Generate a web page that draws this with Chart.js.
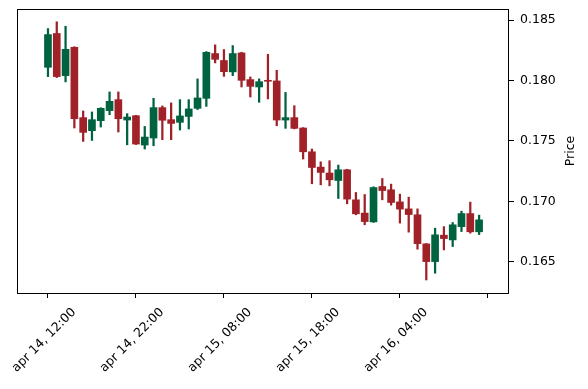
<!DOCTYPE html>
<html>
<head>
<meta charset="utf-8">
<script src="https://cdn.jsdelivr.net/npm/chart.js@4/dist/chart.umd.min.js"></script>
<style>
  html, body { margin: 0; padding: 0; background: #fff; }
  #wrap { width: 588px; height: 389px; }
</style>
</head>
<body>
<div id="wrap"><canvas id="c"></canvas></div>
<script>
// --- OHLC data (hourly candles) ---
const opens  = [0.18110,0.18390,0.18041,0.18276,0.17693,0.17585,0.17668,0.17751,0.17842,0.17673,
                0.17709,0.17466,0.17524,0.17776,0.17676,0.17654,0.17703,0.17770,0.17853,0.18224,
                0.18166,0.18072,0.18229,0.18008,0.17947,0.17998,0.17997,0.17673,0.17693,0.17607,
                0.17410,0.17283,0.17234,0.17172,0.17261,0.17012,0.16902,0.16829,0.17122,0.17095,
                0.16995,0.16937,0.16888,0.16647,0.16500,0.16719,0.16680,0.16790,0.16898,0.16747];
const highs  = [0.18431,0.18487,0.18450,0.18280,0.17748,0.17740,0.17775,0.17906,0.17906,0.17726,
                0.17712,0.17620,0.17853,0.17790,0.17815,0.17842,0.17842,0.18014,0.18240,0.18296,
                0.18257,0.18290,0.18235,0.18030,0.18014,0.18218,0.18085,0.17902,0.17792,0.17610,
                0.17433,0.17327,0.17336,0.17300,0.17265,0.17073,0.17056,0.17120,0.17189,0.17142,
                0.17059,0.17034,0.16937,0.16650,0.16777,0.16790,0.16824,0.16918,0.16993,0.16885];
const lows   = [0.18033,0.18025,0.17989,0.17607,0.17496,0.17504,0.17615,0.17717,0.17574,0.17468,
                0.17470,0.17433,0.17460,0.17510,0.17510,0.17590,0.17599,0.17760,0.17786,0.18146,
                0.18035,0.18041,0.17947,0.17864,0.17820,0.17848,0.17626,0.17604,0.17600,0.17350,
                0.17145,0.17136,0.17128,0.17023,0.16979,0.16888,0.16805,0.16825,0.17012,0.16968,
                0.16819,0.16744,0.16603,0.16348,0.16404,0.16597,0.16625,0.16749,0.16736,0.16724];
const closes = [0.18381,0.18033,0.18259,0.17684,0.17571,0.17676,0.17770,0.17828,0.17684,0.17698,
                0.17474,0.17532,0.17776,0.17671,0.17645,0.17707,0.17765,0.17856,0.18234,0.18176,
                0.18074,0.18224,0.18002,0.17952,0.17991,0.17994,0.17673,0.17693,0.17604,0.17410,
                0.17280,0.17239,0.17178,0.17261,0.17018,0.16896,0.16832,0.17114,0.17089,0.16990,
                0.16935,0.16890,0.16649,0.16500,0.16722,0.16691,0.16805,0.16898,0.16747,0.16846];

// --- axis ticks ---
const xTickPos    = [0, 10, 20, 30, 40, 50];
const xTickLabels = ['apr 14, 12:00', 'apr 14, 22:00', 'apr 15, 08:00', 'apr 15, 18:00', 'apr 16, 04:00', ''];
const yTicks      = [0.165, 0.170, 0.175, 0.180, 0.185];

const UP = '#006340';
const DOWN = '#A02128';
const candleColor = c => closes[c.dataIndex] >= opens[c.dataIndex] ? UP : DOWN;

// frame around the plot area + rotated y label
const framePlugin = {
  id: 'frame',
  afterDraw(chart) {
    const a = chart.chartArea, ctx = chart.ctx;
    ctx.save();
    ctx.strokeStyle = '#000';
    ctx.lineWidth = 1;
    ctx.strokeRect(Math.round(a.left) + 0.5, Math.round(a.top) + 0.5,
                   Math.round(a.right - a.left) - 1, Math.round(a.bottom - a.top));
    ctx.translate(571, (a.top + a.bottom) / 2);
    ctx.rotate(-Math.PI / 2);
    ctx.fillStyle = '#000';
    ctx.font = '12.5px "DejaVu Sans"';
    ctx.textAlign = 'center';
    ctx.textBaseline = 'middle';
    ctx.fillText('Price', 0, 0);
    ctx.restore();
  }
};

new Chart(document.getElementById('c'), {
  type: 'bar',
  data: {
    datasets: [
      {
        label: 'body',
        data: opens.map((o, i) => ({ x: i, y: [o, closes[i]] })),
        backgroundColor: candleColor,
        barThickness: 7,
        minBarLength: 1,
        stack: 'ohlc',
        order: 0
      },
      {
        label: 'wick',
        data: lows.map((l, i) => ({ x: i, y: [l, highs[i]] })),
        backgroundColor: candleColor,
        barThickness: 1.6,
        stack: 'ohlc',
        order: 1
      }
    ]
  },
  options: {
    responsive: true,
    maintainAspectRatio: false,
    animation: false,
    layout: { padding: { left: 17, top: 9, right: 0, bottom: 0 } },
    plugins: { legend: { display: false }, tooltip: { enabled: false } },
    scales: {
      x: {
        type: 'linear',
        offset: false,
        min: -3.52,
        max: 52.4,
        afterBuildTicks: s => { s.ticks = xTickPos.map(v => ({ value: v })); },
        afterFit: s => { s.height = 96; s.paddingLeft = 0; s.paddingRight = 0; },
        border: { display: false },
        grid: { offset: false, drawOnChartArea: false, drawTicks: true, tickLength: 5, color: '#000', tickWidth: 1 },
        ticks: {
          minRotation: 45, maxRotation: 45,
          labelOffset: 26,
          padding: 7,
          color: '#000',
          font: { family: 'DejaVu Sans', size: 12.5 },
          callback: v => xTickLabels[xTickPos.indexOf(v)]
        }
      },
      y: {
        position: 'right',
        stacked: false,
        min: 0.16240,
        max: 0.18593,
        afterBuildTicks: s => { s.ticks = yTicks.map(v => ({ value: v })); },
        afterFit: s => { s.width = 79; s.paddingTop = 0; s.paddingBottom = 0; },
        border: { display: false },
        grid: { drawOnChartArea: false, drawTicks: true, tickLength: 5, color: '#000', tickWidth: 1 },
        ticks: {
          padding: 6,
          color: '#000',
          font: { family: 'DejaVu Sans', size: 12.5 },
          callback: v => v.toFixed(3)
        }
      }
    }
  },
  plugins: [framePlugin]
});
</script>
</body>
</html>
